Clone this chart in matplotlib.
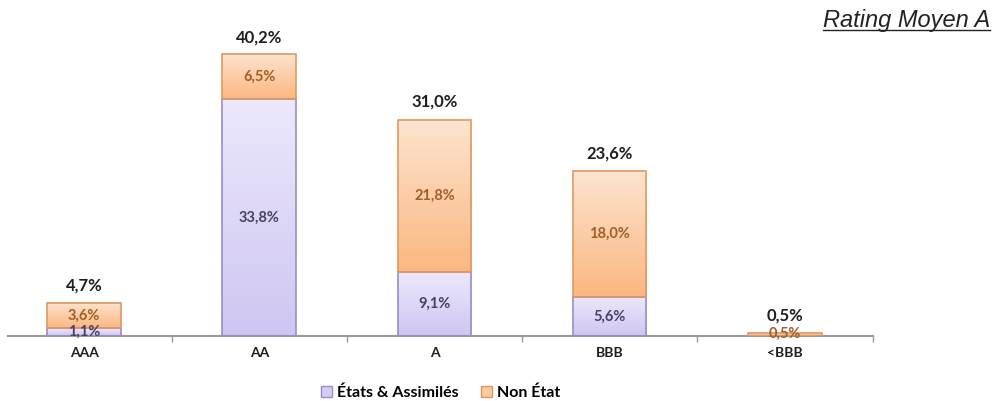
import numpy as np
import matplotlib.pyplot as plt
from matplotlib.colors import LinearSegmentedColormap
from matplotlib.patches import Patch
from matplotlib.lines import Line2D

# ratings and split of the portfolio, in %
ratings = ["AAA", "AA", "A", "BBB", "<BBB"]
etats = [1.1, 33.8, 9.1, 5.6, 0.0]
non_etat = [3.6, 6.5, 21.8, 18.0, 0.5]
totals = [4.7, 40.2, 31.0, 23.6, 0.5]

purple_cmap = LinearSegmentedColormap.from_list("pu", ["#cfc6f2", "#ece8fc"])
orange_cmap = LinearSegmentedColormap.from_list("or", ["#fbb780", "#fde4cf"])
purple_edge = "#9a8dc6"
orange_edge = "#dd9a66"

fig = plt.figure(figsize=(10.01, 4.01), dpi=100)
ax = fig.add_axes([8 / 1001, 65 / 401, 864.5 / 1001, 329 / 401])

width = 0.42
grad = np.linspace(0, 1, 64).reshape(-1, 1)


def draw_segment(x, bottom, height, cmap, edge):
    if height <= 0:
        return
    ax.imshow(grad, cmap=cmap, aspect="auto", origin="lower",
              extent=(x - width / 2, x + width / 2, bottom, bottom + height),
              zorder=2)
    ax.bar(x, height, width, bottom=bottom, fill=False, edgecolor=edge,
           linewidth=1.2, zorder=3)


def pct(v):
    return f"{v:.1f}%".replace(".", ",")


x = np.arange(len(ratings))
for i in x:
    draw_segment(i, 0, etats[i], purple_cmap, purple_edge)
    draw_segment(i, etats[i], non_etat[i], orange_cmap, orange_edge)

    if etats[i] > 0:
        ax.text(i, etats[i] / 2, pct(etats[i]),
                ha="center", va="center", fontsize=10.5, fontweight="bold",
                color="#48425e", family="Lato", zorder=4)
    ax.text(i, etats[i] + non_etat[i] / 2, pct(non_etat[i]),
            ha="center", va="center", fontsize=10.5, fontweight="bold",
            color="#a45e24", family="Lato", zorder=4)
    ax.annotate(pct(totals[i]), (i, totals[i]),
                xytext=(0, 12.5), textcoords="offset points",
                ha="center", va="center", fontsize=12, fontweight="bold",
                color="#1e1e1e", family="Lato")

ax.set_xlim(-0.434, 4.5)
ax.set_ylim(0, 47)

for s in ["top", "right", "left"]:
    ax.spines[s].set_visible(False)
ax.spines["bottom"].set_color("#999999")
ax.spines["bottom"].set_linewidth(1.5)
ax.set_yticks([])
ax.set_xticks(x)
ax.set_xticklabels(ratings, fontsize=10, fontweight="bold", family="Lato",
                   color="#1e1e1e")
ax.tick_params(axis="x", which="major", length=0, pad=8)
ax.set_xticks(np.arange(0.5, 5, 1), minor=True)
ax.tick_params(axis="x", which="minor", length=4, color="#999999", width=1)

handles = [Patch(facecolor="#d6cdf4", edgecolor=purple_edge, label="États & Assimilés"),
           Patch(facecolor="#fcc89b", edgecolor=orange_edge, label="Non État")]
fig.legend(handles=handles, loc="center", bbox_to_anchor=(0.44, 0.02),
           ncol=2, frameon=False, handlelength=0.7, handleheight=0.7,
           handletextpad=0.3, columnspacing=1.4,
           prop={"family": "Lato", "weight": "bold", "size": 11.5})

title = fig.text(0.989, 0.948, "Rating Moyen A", ha="right", va="center",
                 fontsize=17, style="italic", family="Liberation Sans",
                 color="#222222")

# underline under the title
fig.canvas.draw()
bb = title.get_window_extent().transformed(fig.transFigure.inverted())
fig.add_artist(Line2D([bb.x0, bb.x1], [bb.y0 + 0.006, bb.y0 + 0.006],
                      transform=fig.transFigure, color="#222222", linewidth=1))

fig.savefig("out.png", dpi=100)
